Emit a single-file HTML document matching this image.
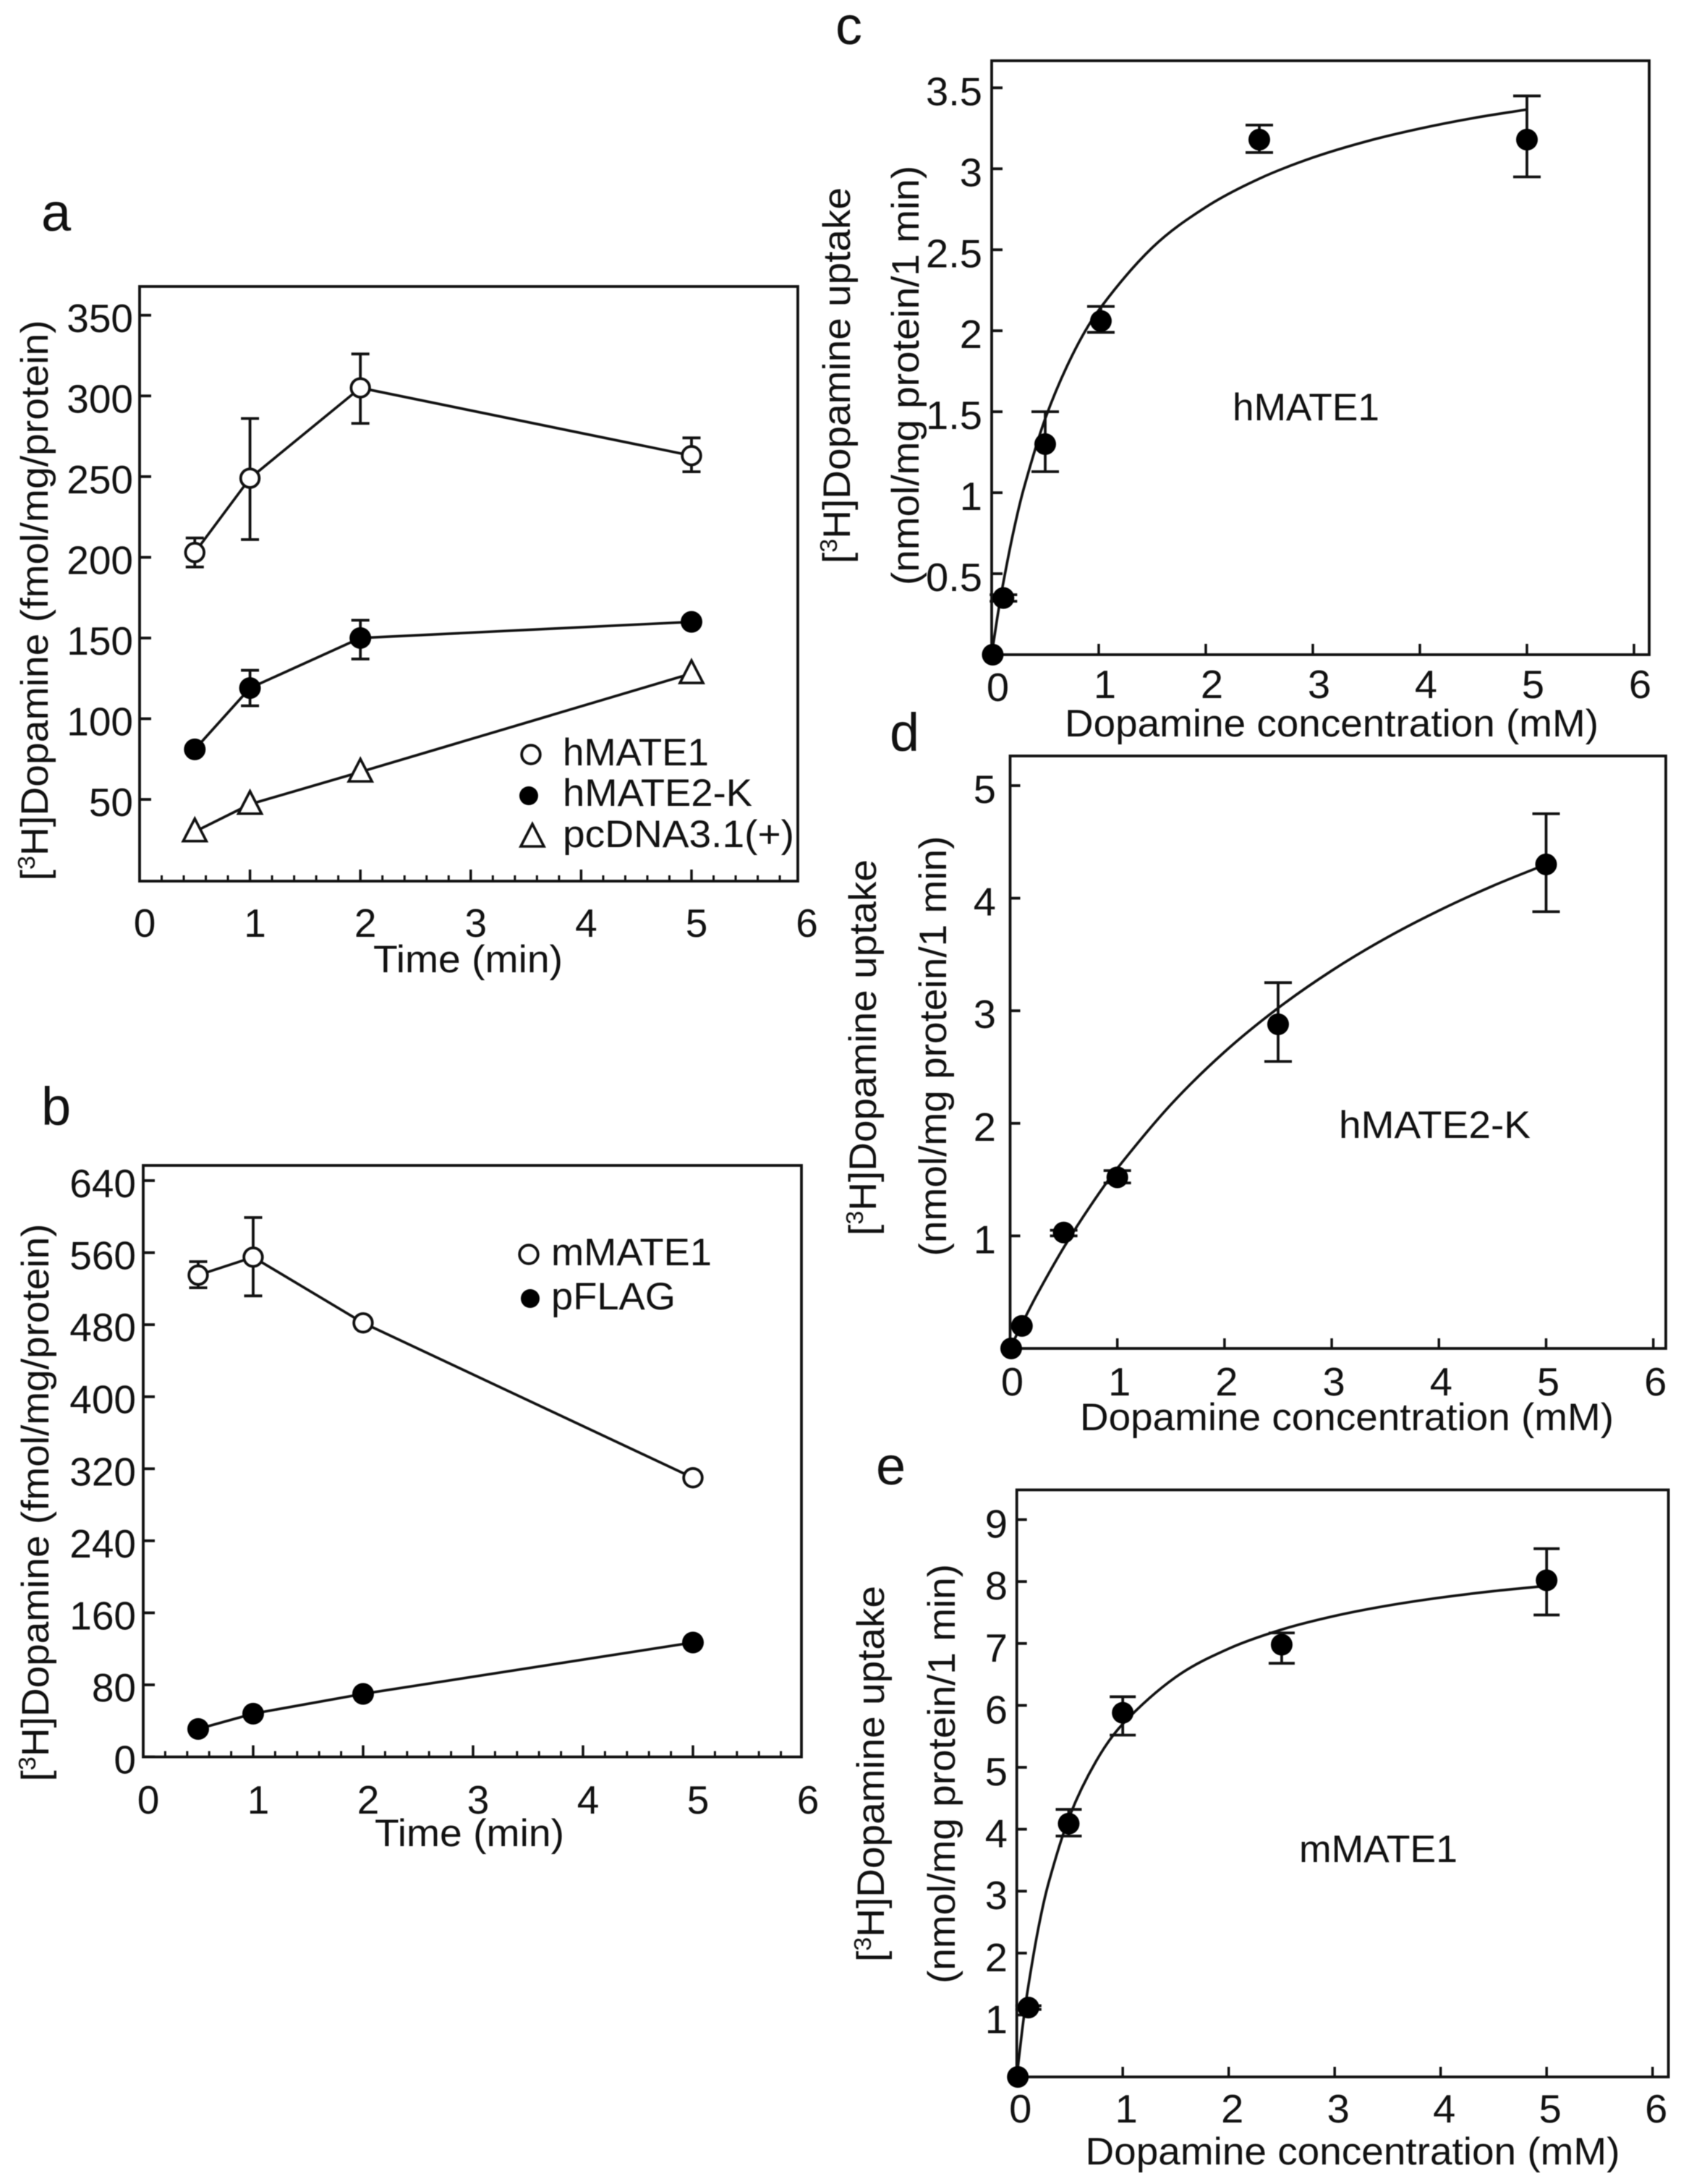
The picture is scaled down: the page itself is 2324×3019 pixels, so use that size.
<!DOCTYPE html>
<html lang="en">
<head>
<meta charset="utf-8">
<title>Dopamine uptake by MATE transporters</title>
<style>
html,body{margin:0;padding:0;background:#fff;}
svg{display:block;filter:blur(0.55px);}
text{font-family:"Liberation Sans",Arial,sans-serif;fill:#111;}
.t{font-size:53px;}
.n{font-size:55px;}
.l{font-size:74px;}
</style>
</head>
<body>
<svg id="fig" xmlns="http://www.w3.org/2000/svg" width="2324" height="3019" viewBox="0 0 2324 3019">
  <rect x="0" y="0" width="2324" height="3019" fill="#fff"/>

  <!-- Panel letters -->
  <text class="l" x="57" y="319">a</text>
  <text class="l" x="57" y="1555">b</text>
  <text class="l" x="1155" y="61">c</text>
  <text class="l" x="1230" y="1038">d</text>
  <text class="l" x="1211" y="2052">e</text>

  <!-- Panel a text -->
  <text class="t" transform="translate(66,830) rotate(-90)" text-anchor="middle" textLength="775" lengthAdjust="spacingAndGlyphs">[<tspan dy="-18" font-size="33">3</tspan><tspan dy="18">H]Dopamine (fmol/mg/protein)</tspan></text>
  <text class="t" x="647" y="1344" text-anchor="middle" textLength="262" lengthAdjust="spacingAndGlyphs">Time (min)</text>
  <text class="t" x="778" y="1058" textLength="202" lengthAdjust="spacingAndGlyphs">hMATE1</text>
  <text class="t" x="778" y="1114" textLength="262" lengthAdjust="spacingAndGlyphs">hMATE2-K</text>
  <text class="t" x="778" y="1171" textLength="320" lengthAdjust="spacingAndGlyphs">pcDNA3.1(+)</text>

  <!-- Panel b text -->
  <text class="t" transform="translate(67,2077) rotate(-90)" text-anchor="middle" textLength="771" lengthAdjust="spacingAndGlyphs">[<tspan dy="-18" font-size="33">3</tspan><tspan dy="18">H]Dopamine (fmol/mg/protein)</tspan></text>
  <text class="t" x="649" y="2552" text-anchor="middle" textLength="262" lengthAdjust="spacingAndGlyphs">Time (min)</text>
  <text class="t" x="762" y="1749" textLength="222" lengthAdjust="spacingAndGlyphs">mMATE1</text>
  <text class="t" x="762" y="1810" textLength="172" lengthAdjust="spacingAndGlyphs">pFLAG</text>

  <!-- Panel c text -->
  <text class="t" transform="translate(1175,519) rotate(-90)" text-anchor="middle" textLength="520" lengthAdjust="spacingAndGlyphs">[<tspan dy="-18" font-size="33">3</tspan><tspan dy="18">H]Dopamine uptake</tspan></text>
  <text class="t" transform="translate(1270,519) rotate(-90)" text-anchor="middle" textLength="580" lengthAdjust="spacingAndGlyphs">(nmol/mg protein/1 min)</text>
  <text class="t" x="1841" y="1018" text-anchor="middle" textLength="738" lengthAdjust="spacingAndGlyphs">Dopamine concentration (mM)</text>
  <text class="t" x="1704" y="581" textLength="203" lengthAdjust="spacingAndGlyphs">hMATE1</text>

  <!-- Panel d text -->
  <text class="t" transform="translate(1211,1448) rotate(-90)" text-anchor="middle" textLength="520" lengthAdjust="spacingAndGlyphs">[<tspan dy="-18" font-size="33">3</tspan><tspan dy="18">H]Dopamine uptake</tspan></text>
  <text class="t" transform="translate(1308,1446) rotate(-90)" text-anchor="middle" textLength="581" lengthAdjust="spacingAndGlyphs">(nmol/mg protein/1 min)</text>
  <text class="t" x="1862" y="1977" text-anchor="middle" textLength="738" lengthAdjust="spacingAndGlyphs">Dopamine concentration (mM)</text>
  <text class="t" x="1851" y="1573" textLength="265" lengthAdjust="spacingAndGlyphs">hMATE2-K</text>

  <!-- Panel e text -->
  <text class="t" transform="translate(1222,2452) rotate(-90)" text-anchor="middle" textLength="520" lengthAdjust="spacingAndGlyphs">[<tspan dy="-18" font-size="33">3</tspan><tspan dy="18">H]Dopamine uptake</tspan></text>
  <text class="t" transform="translate(1320,2452) rotate(-90)" text-anchor="middle" textLength="580" lengthAdjust="spacingAndGlyphs">(nmol/mg protein/1 min)</text>
  <text class="t" x="1870" y="2992" text-anchor="middle" textLength="739" lengthAdjust="spacingAndGlyphs">Dopamine concentration (mM)</text>
  <text class="t" x="1796" y="2574" textLength="219" lengthAdjust="spacingAndGlyphs">mMATE1</text>
</svg>

<script>
// Panel a data
const aTimes = [0.5, 1, 2, 5];
const aHmate1 = [203, 249, 305, 263];
const aHmate1Low = [194, 211, 283, 253];
const aHmate1High = [212, 286, 326, 274];
const aHmate2 = [81, 119, 150, 160];
const aHmate2Low = [81, 108, 137, 160];
const aHmate2High = [81, 130, 161, 160];
const aPcdna = [30, 47, 67, 128];
const aYTicks = [50, 100, 150, 200, 250, 300, 350];
const aXTicks = [0, 1, 2, 3, 4, 5, 6];

// Panel b data
const bTimes = [0.5, 1, 2, 5];
const bMmate1 = [535, 555, 482, 310];
const bMmate1Low = [521, 512, 482, 310];
const bMmate1High = [550, 599, 482, 310];
const bPflag = [31, 48, 70, 127];
const bYTicks = [0, 80, 160, 240, 320, 400, 480, 560, 640];
const bXTicks = [0, 1, 2, 3, 4, 5, 6];

// Panel c data
const cConc = [0.01, 0.11, 0.5, 1.02, 2.5, 5];
const cUptake = [0, 0.35, 1.3, 2.06, 3.18, 3.18];
const cLow = [0, 0.33, 1.13, 1.99, 3.1, 2.95];
const cHigh = [0, 0.37, 1.5, 2.15, 3.27, 3.45];
const cCurveX = [0, 0.05, 0.1, 0.2, 0.3, 0.5, 0.75, 1, 1.5, 2, 2.5, 3, 3.5, 4, 4.5, 5];
const cCurveY = [0, 0.218, 0.414, 0.749, 1.026, 1.457, 1.845, 2.127, 2.513, 2.763, 2.939, 3.069, 3.169, 3.248, 3.313, 3.366];
const cYTicks = [0.5, 1, 1.5, 2, 2.5, 3, 3.5];
const cXTicks = [0, 1, 2, 3, 4, 5, 6];

// Panel d data
const dConc = [0.01, 0.11, 0.5, 1, 2.5, 5];
const dUptake = [0, 0.2, 1.03, 1.52, 2.88, 4.3];
const dLow = [0, 0.2, 1, 1.47, 2.55, 3.88];
const dHigh = [0, 0.2, 1.05, 1.58, 3.25, 4.75];
const dCurveX = [0, 0.1, 0.25, 0.5, 0.75, 1, 1.5, 2, 2.5, 3, 3.5, 4, 4.5, 5];
const dCurveY = [0, 0.198, 0.477, 0.896, 1.268, 1.6, 2.167, 2.634, 3.024, 3.356, 3.642, 3.89, 4.108, 4.301];
const dYTicks = [1, 2, 3, 4, 5];
const dXTicks = [0, 1, 2, 3, 4, 5, 6];

// Panel e data
const eConc = [0.01, 0.11, 0.49, 1, 2.5, 5];
const eUptake = [0, 1.12, 4.09, 5.88, 6.98, 8.02];
const eLow = [0, 1.09, 3.89, 5.52, 6.68, 7.46];
const eHigh = [0, 1.15, 4.32, 6.14, 7.17, 8.53];
const eCurveX = [0, 0.05, 0.1, 0.2, 0.3, 0.5, 0.75, 1, 1.5, 2, 2.5, 3, 3.5, 4, 4.5, 5];
const eCurveY = [0, 0.742, 1.369, 2.369, 3.132, 4.218, 5.103, 5.7, 6.457, 6.916, 7.224, 7.444, 7.611, 7.741, 7.845, 7.93];
const eYTicks = [1, 2, 3, 4, 5, 6, 7, 8, 9];
const eXTicks = [0, 1, 2, 3, 4, 5, 6];

const svg = document.getElementById('fig');
const NS = 'http://www.w3.org/2000/svg';
const INK = '#111';

function mk(tag, attrs, name, parent) {
  const el = document.createElementNS(NS, tag);
  for (const k in attrs) el.setAttribute(k, attrs[k]);
  
  
  (parent || svg).appendChild(el);
  return el;
}

function axisFns(g) {
  return {
    x: v => g.x0 + g.xUnit * v,
    y: v => g.y0 - g.yUnit * v
  };
}

function drawAxes(id, g, xTicks, yTicks) {
  const a = axisFns(g);
  const grp = mk('g', {}, 'panel-' + id + '-axes');
  mk('rect', {x: g.L, y: g.T, width: g.R - g.L, height: g.B - g.T, fill: 'none', stroke: INK, 'stroke-width': 3.8}, 'panel-' + id + '-frame', grp);
  xTicks.forEach(v => {
    const px = a.x(v);
    if (px < g.R - 2 && v > 0) {
      mk('line', {x1: px, x2: px, y1: g.B, y2: g.B - g.tick, stroke: INK, 'stroke-width': 3.5}, 'panel-' + id + '-x-tick-' + v, grp);
    }
    const zeroDy = v === 0 ? g.zeroDy : 0;
    const label = mk('text', {class: 'n', 'text-anchor': 'middle', transform: 'translate(' + (px + g.xLabelDx) + ',' + (g.xLabelY + zeroDy) + ') scale(' + g.sx + ',1)'}, 'panel-' + id + '-x-tick-label-' + v, grp);
    label.textContent = String(v);
  });
  if (g.minor) {
    for (let i = 1; i < 30; i++) {
      if (i % 5 === 0) continue;
      const px = a.x(i * 0.2);
      if (px >= g.R - 2) continue;
      mk('line', {x1: px, x2: px, y1: g.B, y2: g.B - 8, stroke: INK, 'stroke-width': 3}, 'panel-' + id + '-x-minor-tick', grp);
    }
  }
  yTicks.forEach(v => {
    const py = a.y(v);
    mk('line', {x1: g.L, x2: g.L + g.tick, y1: py, y2: py, stroke: INK, 'stroke-width': 3.8}, 'panel-' + id + '-y-tick-' + v, grp);
    const label = mk('text', {class: 'n', 'text-anchor': 'end', transform: 'translate(' + g.yLabelX + ',' + (py + 20 + g.yLabelDy) + ') scale(' + g.sx + ',1)'}, 'panel-' + id + '-y-tick-label-' + v, grp);
    label.textContent = String(v);
  });
}

function polyline(g, xs, ys, name) {
  const a = axisFns(g);
  const pts = xs.map((v, i) => a.x(v) + ',' + a.y(ys[i])).join(' ');
  mk('polyline', {points: pts, fill: 'none', stroke: INK, 'stroke-width': 3.6}, name);
}

function smoothCurve(g, xs, ys, name) {
  const a = axisFns(g);
  const P = xs.map((v, i) => [a.x(v), a.y(ys[i])]);
  const n = P.length;
  const slope = i => {
    const p = P[Math.max(i - 1, 0)], q = P[Math.min(i + 1, n - 1)];
    return (q[1] - p[1]) / (q[0] - p[0]);
  };
  let d = 'M' + P[0][0] + ' ' + P[0][1];
  for (let i = 0; i < n - 1; i++) {
    const h = (P[i + 1][0] - P[i][0]) / 3;
    const c1x = P[i][0] + h, c1y = P[i][1] + slope(i) * h;
    const c2x = P[i + 1][0] - h, c2y = P[i + 1][1] - slope(i + 1) * h;
    d += ' C' + c1x + ' ' + c1y + ' ' + c2x + ' ' + c2y + ' ' + P[i + 1][0] + ' ' + P[i + 1][1];
  }
  mk('path', {d: d, fill: 'none', stroke: INK, 'stroke-width': 3.6}, name);
}

function errorBars(g, xs, lows, highs, cap, name) {
  const a = axisFns(g);
  xs.forEach((v, i) => {
    if (lows[i] === highs[i]) return;
    const px = a.x(v), y1 = a.y(lows[i]), y2 = a.y(highs[i]);
    const grp = mk('g', {stroke: INK, 'stroke-width': 3.8}, name + '-' + i);
    mk('line', {x1: px, x2: px, y1: y1, y2: y2}, name + '-stem', grp);
    mk('line', {x1: px - cap, x2: px + cap, y1: y1, y2: y1}, name + '-cap-low', grp);
    mk('line', {x1: px - cap, x2: px + cap, y1: y2, y2: y2}, name + '-cap-high', grp);
  });
}

function openPoint(cx, cy, name) {
  mk('circle', {cx: cx, cy: cy, r: 12.8, fill: '#fff', stroke: INK, 'stroke-width': 3.8}, name);
}
function filledPoint(cx, cy, r, name) {
  mk('circle', {cx: cx, cy: cy, r: r, fill: '#000'}, name);
}
function triPoint(cx, cy, name) {
  const pts = (cx) + ',' + (cy - 18) + ' ' + (cx + 16) + ',' + (cy + 13) + ' ' + (cx - 16) + ',' + (cy + 13);
  mk('polygon', {points: pts, fill: '#fff', stroke: INK, 'stroke-width': 3.6}, name);
}

// Layout for each panel (pixels)
const gA = {L:193,R:1103,T:396,B:1218,x0:193,xUnit:152.6,y0:1216.6,yUnit:2.231,tick:16,minor:true,xLabelDx:7,xLabelY:1295,zeroDy:0,yLabelX:184,yLabelDy:3,sx:1};
const gB = {L:198,R:1108,T:1611,B:2428.6,x0:198,xUnit:152,y0:2428.6,yUnit:1.2447,tick:16,minor:true,xLabelDx:7,xLabelY:2507,zeroDy:0,yLabelX:188,yLabelDy:3,sx:1};
const gC = {L:1371,R:2280,T:84,B:905,x0:1371,xUnit:148,y0:905,yUnit:223.9,tick:15,minor:false,xLabelDx:8.5,xLabelY:965,zeroDy:4,yLabelX:1358,yLabelDy:4,sx:1.02};
const gD = {L:1396.5,R:2303,T:1045,B:1864,x0:1396.5,xUnit:148.2,y0:1864,yUnit:155.6,tick:14,minor:false,xLabelDx:3,xLabelY:1929,zeroDy:0,yLabelX:1377,yLabelDy:4,sx:1.02};
const gE = {L:1405.7,R:2306.6,T:2059.5,B:2871,x0:1405.7,xUnit:146.5,y0:2871,yUnit:85.6,tick:14,minor:false,xLabelDx:5,xLabelY:2934,zeroDy:0,yLabelX:1393,yLabelDy:5,sx:1.02};

// Panel a
drawAxes('a', gA, aXTicks, aYTicks);
polyline(gA, aTimes, aHmate1, 'line-hmate1');
polyline(gA, aTimes, aHmate2, 'line-hmate2-k');
polyline(gA, aTimes, aPcdna, 'line-pcdna');
errorBars(gA, aTimes, aHmate1Low, aHmate1High, 12.5, 'error-bar-hmate1');
errorBars(gA, aTimes, aHmate2Low, aHmate2High, 12.5, 'error-bar-hmate2-k');
(function () {
  const a = axisFns(gA);
  aTimes.forEach((v, i) => {
    openPoint(a.x(v), a.y(aHmate1[i]), 'point-hmate1');
    filledPoint(a.x(v), a.y(aHmate2[i]), 15, 'point-hmate2-k');
    triPoint(a.x(v), a.y(aPcdna[i]), 'point-pcdna');
  });
})();
openPoint(734, 1043, 'legend-marker-hmate1');
filledPoint(731, 1100, 13, 'legend-marker-hmate2-k');
triPoint(736, 1157, 'legend-marker-pcdna');

// Panel b
drawAxes('b', gB, bXTicks, bYTicks);
polyline(gB, bTimes, bMmate1, 'line-mmate1');
polyline(gB, bTimes, bPflag, 'line-pflag');
errorBars(gB, bTimes, bMmate1Low, bMmate1High, 12.5, 'error-bar-mmate1');
(function () {
  const a = axisFns(gB);
  bTimes.forEach((v, i) => {
    openPoint(a.x(v), a.y(bMmate1[i]), 'point-mmate1');
    filledPoint(a.x(v), a.y(bPflag[i]), 15, 'point-pflag');
  });
})();
openPoint(731, 1734, 'legend-marker-mmate1');
filledPoint(733, 1795, 13, 'legend-marker-pflag');

// Panels c, d, e
function saturation(id, g, xTicks, yTicks, xs, ys, lows, highs, cx, cy, cap) {
  drawAxes(id, g, xTicks, yTicks);
  smoothCurve(g, cx, cy, 'panel-' + id + '-fit-curve');
  errorBars(g, xs, lows, highs, cap, 'panel-' + id + '-error-bar');
  const a = axisFns(g);
  xs.forEach((v, i) => {
    filledPoint(a.x(v), a.y(ys[i]), 15, 'panel-' + id + '-point');
  });
}
saturation('c', gC, cXTicks, cYTicks, cConc, cUptake, cLow, cHigh, cCurveX, cCurveY, 19);
saturation('d', gD, dXTicks, dYTicks, dConc, dUptake, dLow, dHigh, dCurveX, dCurveY, 19);
saturation('e', gE, eXTicks, eYTicks, eConc, eUptake, eLow, eHigh, eCurveX, eCurveY, 18);
</script>
</body>
</html>
